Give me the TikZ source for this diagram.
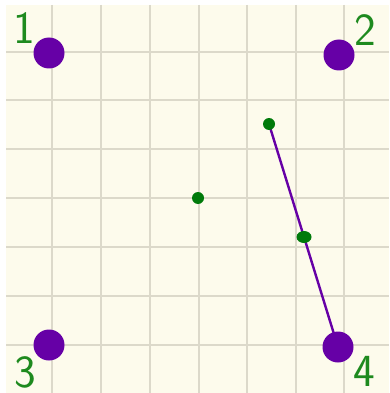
\documentclass[tikz,border=0pt]{standalone}
\usetikzlibrary{shapes.geometric}
\definecolor{cream}{HTML}{FDFBEC}
\definecolor{gridc}{HTML}{DCD9CA}
\definecolor{dotpurple}{HTML}{6600A6}
\definecolor{dotgreen}{HTML}{007A0A}
\definecolor{labgreen}{HTML}{1E8A1E}
\tikzset{
  bigdot/.style={circle,fill=dotpurple,inner sep=0pt,minimum size=31pt},
  smalldot/.style={circle,fill=dotgreen,inner sep=0pt,minimum size=12pt},
  ovaldot/.style={ellipse,fill=dotgreen,inner sep=0pt,minimum width=15pt,minimum height=12pt},
  numlabel/.style={text=labgreen,font=\sffamily\fontsize{46}{46}\selectfont,inner sep=0pt},
  gridline/.style={draw=gridc,line width=1.1pt},
  pathline/.style={draw=dotpurple,line width=2.4pt,line join=round}
}
\begin{document}
\begin{tikzpicture}[x=1pt,y=-1pt]
\useasboundingbox (0,0) rectangle (389,393);
\fill[white] (0,0) rectangle (389,393);
\fill[cream] (6,5) rectangle (389,393);
\foreach \gx in {52,101,150,199,247,296,344} {
  \draw[gridline] (\gx,5) -- (\gx,393);
}
\foreach \gy in {52,100,149,198,247,296,345} {
  \draw[gridline] (6,\gy) -- (389,\gy);
}
\coordinate (pa) at (269,124);
\coordinate (pb) at (304,237);
\coordinate (pd) at (338,347);
\draw[pathline] (pa) -- (pb) -- (pd);
\node[bigdot] (d1) at (49,53) {};
\node[bigdot] (d2) at (339,55) {};
\node[bigdot] (d3) at (49,345) {};
\node[bigdot] (d4) at (pd) {};
\node[smalldot] (g1) at (pa) {};
\node[ovaldot] (g2) at (pb) {};
\node[smalldot] (g3) at (198,198) {};
\node[numlabel] (l1) at (24,28) {1};
\node[numlabel] (l2) at (365,30) {2};
\node[numlabel] (l3) at (25,372) {3};
\node[numlabel] (l4) at (364,371) {4};
\end{tikzpicture}
\end{document}
